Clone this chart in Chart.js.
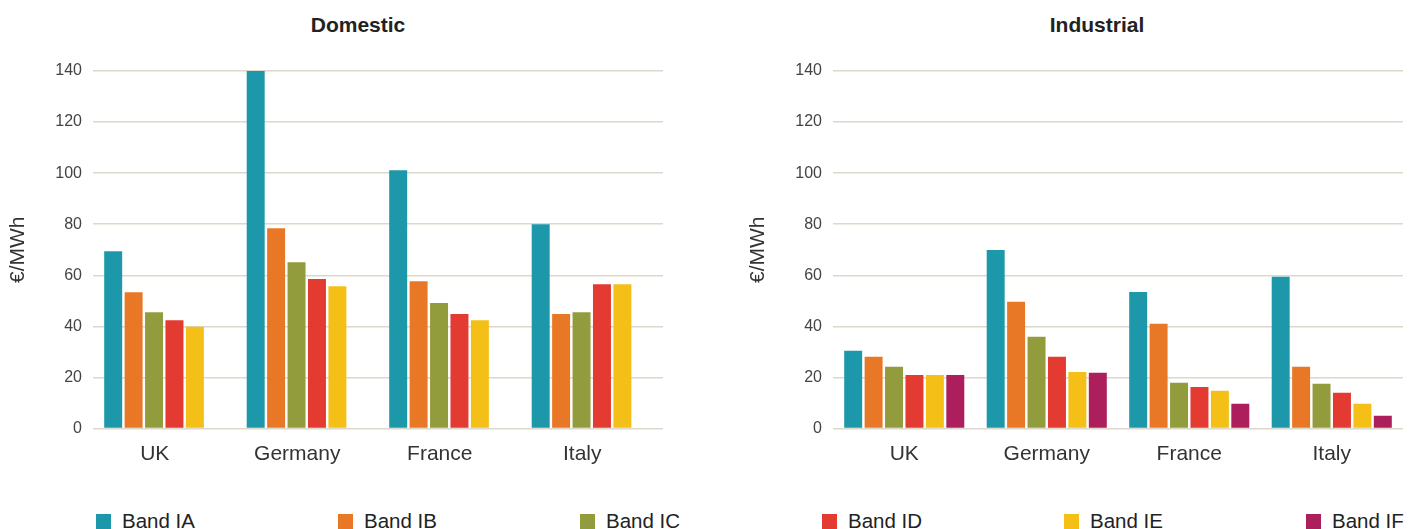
<!DOCTYPE html>
<html>
<head>
<meta charset="utf-8">
<script src="https://cdn.jsdelivr.net/npm/chart.js@4"></script>
<style>
  html, body { margin: 0; padding: 0; background: #fff; }
  body { width: 1419px; height: 529px; position: relative; overflow: hidden; font-family: "Liberation Sans", Arial, sans-serif; }
  .box { position: absolute; top: 0; width: 679px; height: 480px; }
  .title { position: absolute; top: 13px; width: 300px; text-align: center; font-size: 21px; font-weight: bold; color: #222; }
  #legend { position: absolute; left: 96px; top: 509px; display: flex; }
  #legend .item { width: 242px; display: flex; align-items: center; font-size: 20.5px; color: #222; }
  #legend .sw { width: 15px; height: 15px; margin-right: 11px; }
</style>
</head>
<body>
<div class="title" style="left:208px">Domestic</div>
<div class="title" style="left:947px">Industrial</div>
<div class="box" style="left:0"><canvas id="domestic"></canvas></div>
<div class="box" style="left:740px"><canvas id="industrial"></canvas></div>
<div id="legend"></div>
<script>
// categories and bands
const countries = ['UK', 'Germany', 'France', 'Italy'];
const bands = ['Band IA', 'Band IB', 'Band IC', 'Band ID', 'Band IE', 'Band IF'];
const bandColors = ['#1c98aa', '#e97826', '#939c3d', '#e33a31', '#f4c018', '#ad1f5c'];
const yTicks = [0, 20, 40, 60, 80, 100, 120, 140];

// domestic prices, €/MWh (no Band IF)
const domIA = [69.4, 140, 101.1, 80.0];
const domIB = [53.4, 78.4, 57.7, 44.8];
const domIC = [45.5, 65.1, 49.1, 45.5];
const domID = [42.4, 58.5, 44.8, 56.5];
const domIE = [39.8, 55.7, 42.4, 56.5];
const domIF = [null, null, null, null];

// industrial prices, €/MWh
const indIA = [30.4, 69.9, 53.5, 59.4];
const indIB = [28.1, 49.6, 41.0, 24.2];
const indIC = [24.2, 35.9, 17.9, 17.5];
const indID = [21.0, 28.1, 16.3, 14.0];
const indIE = [21.0, 22.1, 14.8, 9.7];
const indIF = [21.0, 21.8, 9.7, 5.0];

const FONT = '"Liberation Sans", Arial, sans-serif';

function makeChart(id, series, labelShift) {
  new Chart(document.getElementById(id), {
    type: 'bar',
    data: {
      labels: countries,
      datasets: series.map((d, i) => ({
        label: bands[i],
        data: d,
        backgroundColor: bandColors[i],
        borderWidth: 0,
        barPercentage: 0.88,
        categoryPercentage: 0.86
      }))
    },
    options: {
      responsive: true,
      maintainAspectRatio: false,
      animation: false,
      layout: { padding: { left: 0, right: 16, top: 71, bottom: 0 } },
      plugins: {
        legend: { display: false },
        tooltip: { enabled: false }
      },
      scales: {
        x: {
          grid: { display: false },
          border: { display: false },
          ticks: { color: '#333', font: { family: FONT, size: 21 }, padding: 5, labelOffset: labelShift },
          afterFit: s => { s.height = 51.5; }
        },
        y: {
          min: 0,
          max: 140,
          afterBuildTicks: s => { s.ticks = yTicks.map(v => ({ value: v })); },
          grid: { color: '#ddd8cc', lineWidth: 1.5, drawTicks: false },
          border: { display: false },
          ticks: { color: '#444', font: { family: FONT, size: 16 }, padding: 11 },
          title: {
            display: true,
            text: '€/MWh',
            color: '#333',
            font: { family: FONT, size: 21 },
            padding: { top: 6, bottom: 0 }
          },
          afterFit: s => { s.width = 93; }
        }
      }
    }
  });
}

makeChart('domestic', [domIA, domIB, domIC, domID, domIE, domIF], -9.5);
makeChart('industrial', [indIA, indIB, indIC, indID, indIE, indIF], 0);

// shared legend under both charts
const legend = document.getElementById('legend');
bands.forEach((b, i) => {
  const item = document.createElement('div');
  item.className = 'item';
  const sw = document.createElement('span');
  sw.className = 'sw';
  sw.style.background = bandColors[i];
  item.appendChild(sw);
  item.appendChild(document.createTextNode(b));
  legend.appendChild(item);
});
</script>
</body>
</html>
